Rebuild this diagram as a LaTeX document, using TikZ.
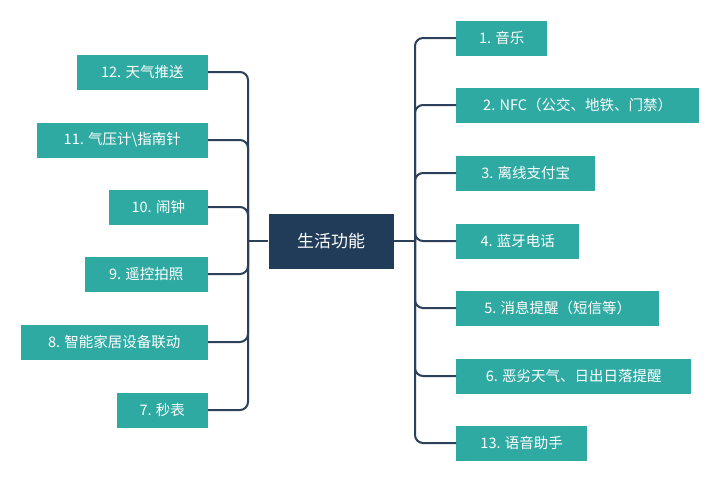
\documentclass[tikz,border=0pt]{standalone}
\usepackage{fontspec}
\usepackage{tikz}
\usetikzlibrary{positioning}
\newfontfamily\cjk{Noto Sans CJK SC}
\definecolor{navy}{HTML}{213C58}
\definecolor{linkc}{HTML}{2C405A}
\definecolor{teal}{HTML}{2FAAA3}
\tikzset{root/.style = {fill=navy, text=white, font=\cjk\fontsize{17}{20}\selectfont,
                        minimum width=125, minimum height=55, inner sep=0}}
\tikzset{leaf/.style = {fill=teal, text=white, font=\cjk\fontsize{14.5}{17}\selectfont,
                        minimum height=35, inner xsep=6, inner ysep=0}}
\tikzset{link/.style = {draw=linkc, line width=2pt, rounded corners=8pt}}

\begin{document}
\begin{tikzpicture}[x=1pt,y=-1pt]
    \useasboundingbox[fill=white] (0,0) rectangle (720,482);
    \node[root] (root) at (331,241) {生活功能};
    \coordinate (jl) at (248,241); % left trunk
    \coordinate (jr) at (415,241); % right trunk

    % left side
    \node[leaf,anchor=east,minimum width=131] (n12) at (208,72) {12. 天气推送};
    \node[leaf,anchor=east,minimum width=171] (n11) at (208,140) {11. 气压计\textbackslash 指南针};
    \node[leaf,anchor=east,minimum width=99] (n10) at (208,207) {10. 闹钟};
    \node[leaf,anchor=east,minimum width=123] (n9) at (208,274) {9. 遥控拍照};
    \node[leaf,anchor=east,minimum width=187] (n8) at (208,342) {8. 智能家居设备联动};
    \node[leaf,anchor=east,minimum width=91] (n7) at (208,410) {7. 秒表};

    % right side
    \node[leaf,anchor=west,minimum width=91] (n1) at (456,38) {1. 音乐};
    \node[leaf,anchor=west,minimum width=243] (n2) at (456,105) {2. NFC（公交、地铁、门禁）};
    \node[leaf,anchor=west,minimum width=139] (n3) at (456,173) {3. 离线支付宝};
    \node[leaf,anchor=west,minimum width=123] (n4) at (456,241) {4. 蓝牙电话};
    \node[leaf,anchor=west,minimum width=203] (n5) at (456,308) {5. 消息提醒（短信等）};
    \node[leaf,anchor=west,minimum width=235] (n6) at (456,376) {6. 恶劣天气、日出日落提醒};
    \node[leaf,anchor=west,minimum width=131] (n13) at (456,443) {13. 语音助手};

    \draw[link] (root.west) -- (jl);
    \draw[link] (root.east) -- (jr);
    \draw[link] (jl) |- (n12.east);
    \draw[link] (jl) |- (n11.east);
    \draw[link] (jl) |- (n10.east);
    \draw[link] (jl) |- (n9.east);
    \draw[link] (jl) |- (n8.east);
    \draw[link] (jl) |- (n7.east);
    \draw[link] (jr) |- (n1.west);
    \draw[link] (jr) |- (n2.west);
    \draw[link] (jr) |- (n3.west);
    \draw[link] (jr) |- (n4.west);
    \draw[link] (jr) |- (n5.west);
    \draw[link] (jr) |- (n6.west);
    \draw[link] (jr) |- (n13.west);
\end{tikzpicture}
\end{document}
